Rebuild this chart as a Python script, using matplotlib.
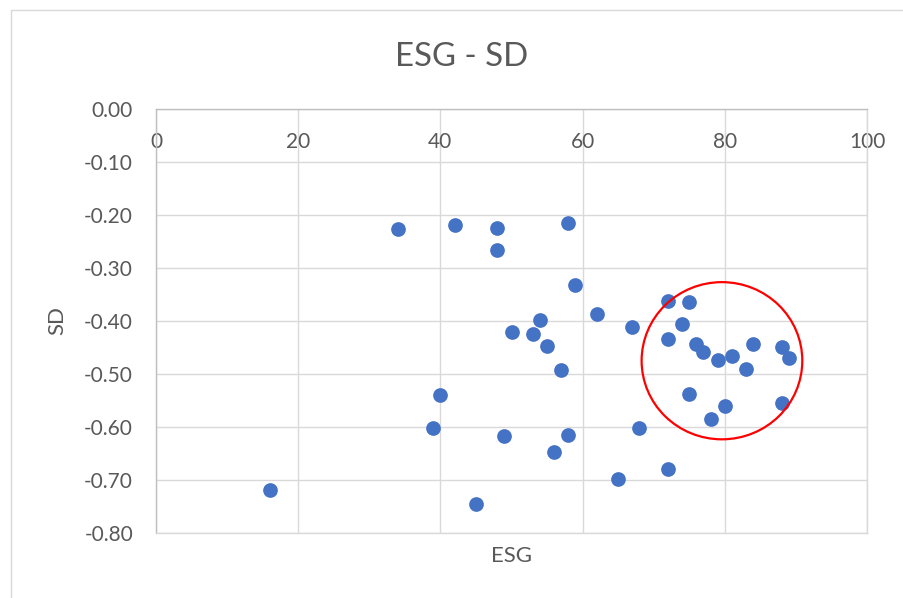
import matplotlib
matplotlib.use('Agg')
import matplotlib.pyplot as plt
from matplotlib.patches import Ellipse, Rectangle
from matplotlib.ticker import FuncFormatter, MultipleLocator

# ESG score vs SD
esg = [34, 42, 48, 48, 58, 62, 54, 50, 53, 55, 57, 40, 39, 49, 58, 56, 16, 45, 59,
       67, 72, 75, 74, 72, 76, 77, 79, 81, 84, 83, 88, 89, 75, 80, 78, 88, 68, 72, 65]
sd = [-0.226, -0.219, -0.225, -0.267, -0.216, -0.387, -0.399, -0.420, -0.424, -0.448,
      -0.493, -0.540, -0.602, -0.616, -0.614, -0.647, -0.719, -0.744, -0.333,
      -0.411, -0.362, -0.364, -0.405, -0.434, -0.443, -0.459, -0.473, -0.466, -0.443,
      -0.491, -0.449, -0.469, -0.537, -0.561, -0.584, -0.555, -0.601, -0.678, -0.698]

# red highlight circle around the high-ESG cluster (data units)
highlight_center = (79.6, -0.475)
highlight_w, highlight_h = 22.6, 0.296

text_color = '#595959'
grid_color = '#D9D9D9'
axis_color = '#BFBFBF'
plt.rcParams['font.family'] = ['Lato', 'DejaVu Sans']

fig = plt.figure(figsize=(9.04, 5.98), dpi=100)
ax = fig.add_axes([0.17257, 0.10819, 0.78650, 0.71037])

ax.scatter(esg, sd, s=112, color='#4472C4', zorder=3, linewidths=0)
ax.add_patch(Ellipse(highlight_center, highlight_w, highlight_h, fill=False,
                     edgecolor='#FF0000', lw=1.6, zorder=4))

ax.set_xlim(0, 100)
ax.set_ylim(-0.8, 0)
ax.xaxis.set_major_locator(MultipleLocator(20))
ax.yaxis.set_major_locator(MultipleLocator(0.1))
ax.yaxis.set_major_formatter(FuncFormatter(lambda v, p: f'{0 if abs(v) < 1e-9 else v:.2f}'))
ax.grid(True, color=grid_color, lw=1.0, zorder=0)
ax.set_axisbelow(True)

for side in ['bottom', 'right']:
    ax.spines[side].set_color(grid_color)
for side in ['top', 'left']:
    ax.spines[side].set_color(axis_color)
for sp in ax.spines.values():
    sp.set_linewidth(1.0)

# x labels sit just under the zero line at the top, like Excel
ax.tick_params(axis='x', length=0, top=False, bottom=False, labeltop=True,
               labelbottom=False, pad=-31, labelsize=15, labelcolor=text_color)
ax.tick_params(axis='y', length=0, pad=16.5, labelsize=15, labelcolor=text_color)
ax.xaxis.set_label_position('bottom')

ax.set_xlabel('ESG', fontsize=16, color=text_color, labelpad=9)
ax.set_ylabel('SD', fontsize=16, color=text_color, labelpad=12)
fig.text(0.511, 1 - 66 / 598, 'ESG - SD', fontsize=23.8, color=text_color,
         ha='center', va='baseline')

# chart area border
fig.patches.append(Rectangle((11 / 904, -0.05), 1.2, 1.05 - 10 / 598, fill=False,
                             edgecolor=grid_color, lw=1.0, transform=fig.transFigure))

fig.savefig('out.png', dpi=100)
